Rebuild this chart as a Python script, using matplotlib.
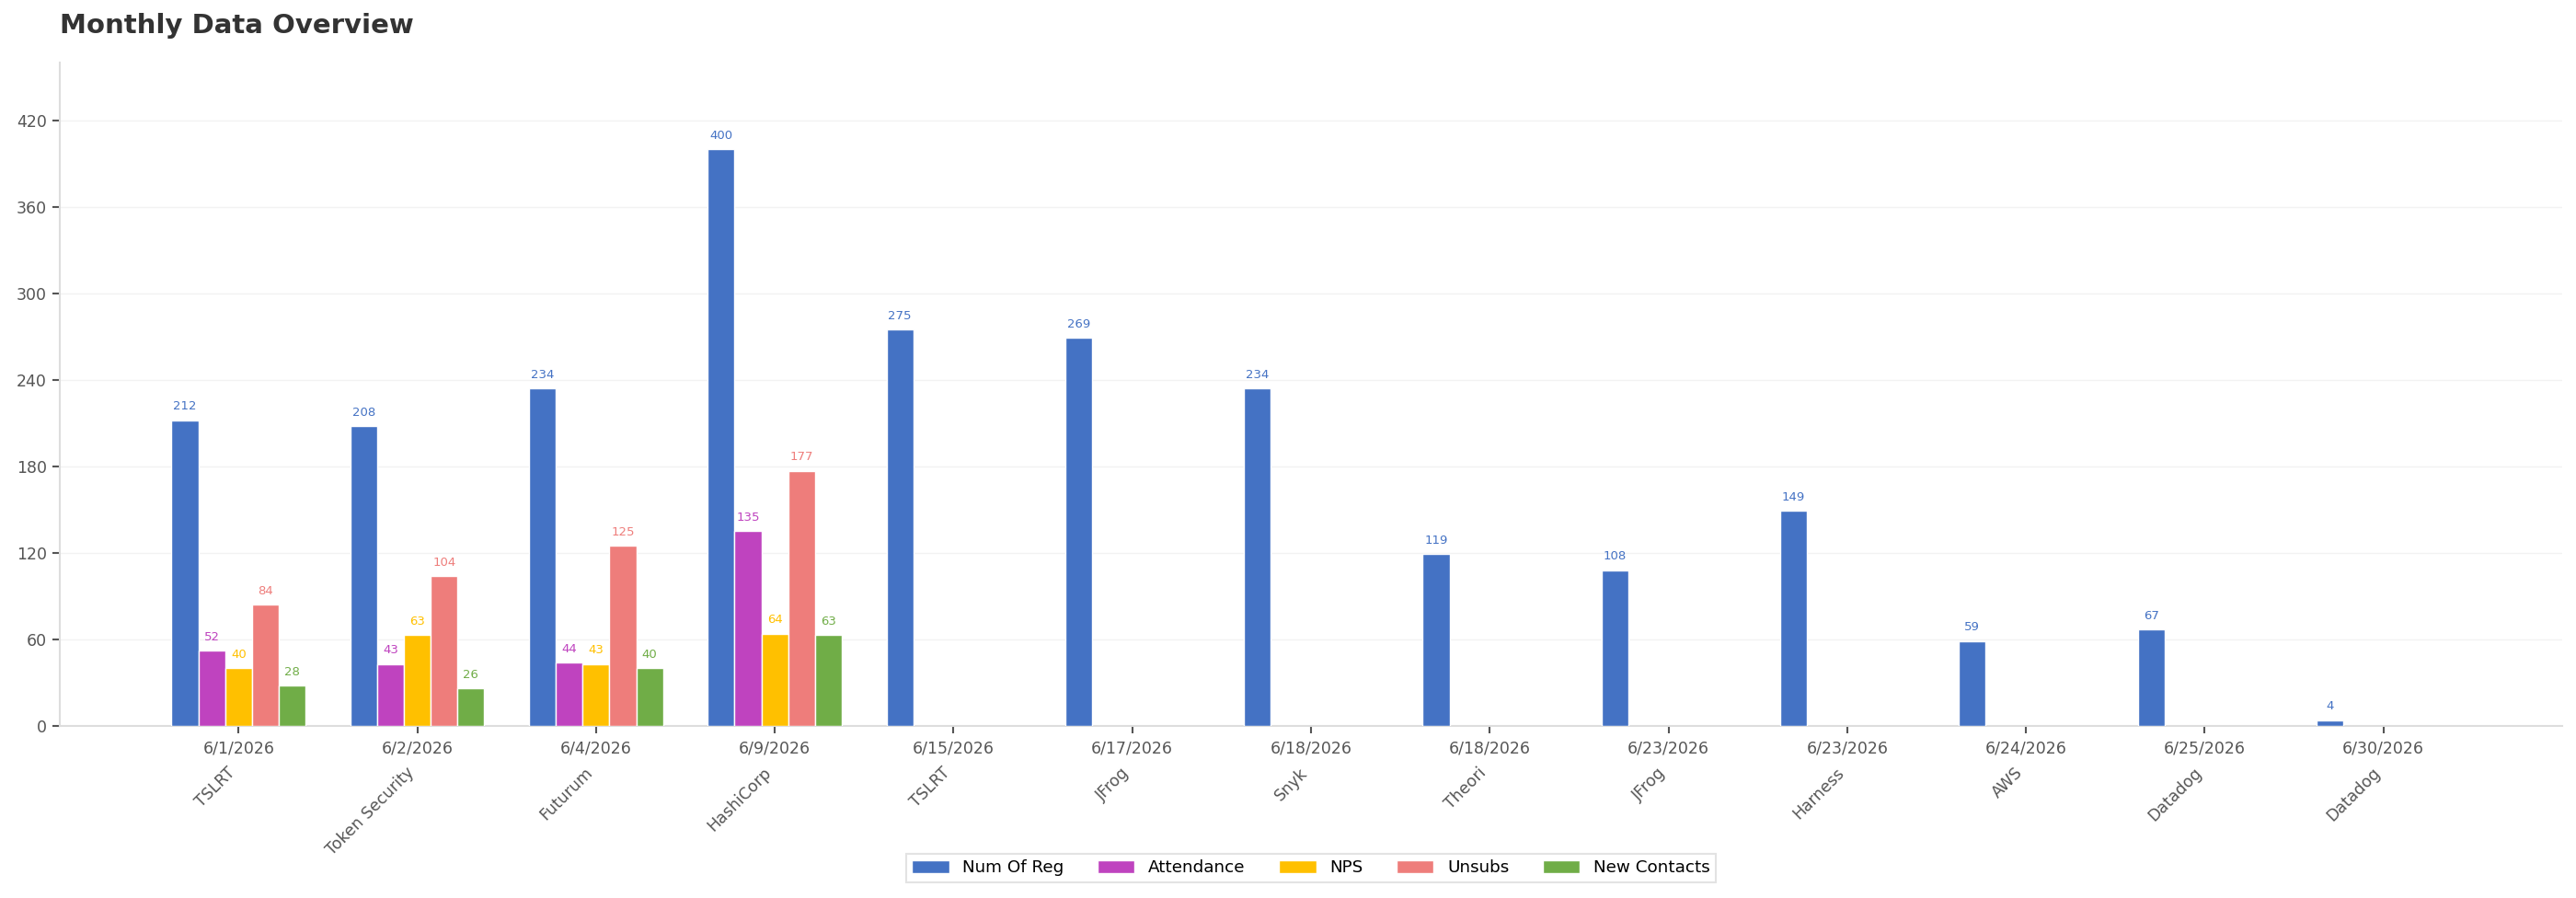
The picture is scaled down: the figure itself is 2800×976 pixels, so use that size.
import matplotlib
matplotlib.use("Agg")
import matplotlib.pyplot as plt
import matplotlib.transforms as mtransforms
import numpy as np

dates = ["6/1/2026", "6/2/2026", "6/4/2026", "6/9/2026", "6/15/2026", "6/17/2026",
         "6/18/2026", "6/18/2026", "6/23/2026", "6/23/2026", "6/24/2026", "6/25/2026", "6/30/2026"]
companies = ["TSLRT", "Token Security", "Futurum", "HashiCorp", "TSLRT", "JFrog",
             "Snyk", "Theori", "JFrog", "Harness", "AWS", "Datadog", "Datadog"]

num_of_reg = [212, 208, 234, 400, 275, 269, 234, 119, 108, 149, 59, 67, 4]
attendance = [52, 43, 44, 135, 0, 0, 0, 0, 0, 0, 0, 0, 0]
nps = [40, 63, 43, 64, 0, 0, 0, 0, 0, 0, 0, 0, 0]
unsubs = [84, 104, 125, 177, 0, 0, 0, 0, 0, 0, 0, 0, 0]
new_contacts = [28, 26, 40, 63, 0, 0, 0, 0, 0, 0, 0, 0, 0]

series_names = ["Num Of Reg", "Attendance", "NPS", "Unsubs", "New Contacts"]
series_values = [num_of_reg, attendance, nps, unsubs, new_contacts]
colors = ["#4472C4", "#BF43BF", "#FFC000", "#EE7D7B", "#70AD47"]

plt.rcParams['font.family'] = ['DejaVu Sans']

fig = plt.figure(figsize=(28, 9.76), dpi=100)
ax = fig.add_axes([65/2800, 1-789/976, (2785-65)/2800, (789-68)/976])

x = np.arange(len(dates))
width = 0.15
n = len(series_names)
for i, (name, vals, c) in enumerate(zip(series_names, series_values, colors)):
    offs = (i - (n - 1) / 2) * width
    arr = np.array(vals, dtype=float)
    shown = np.where(arr == 0, np.nan, arr)
    ax.bar(x + offs, shown, width, color=c, edgecolor="white", linewidth=1, label=name, zorder=3)
    for xi, v in zip(x + offs, vals):
        if v:
            ax.annotate(str(v), (xi, v), xytext=(0, 6), textcoords="offset points",
                        ha="center", va="bottom", fontsize=9.5, color=c)

ax.set_xlim(-1, len(dates))
ax.set_ylim(0, 460)
ax.set_yticks(np.arange(0, 421, 60))
ax.set_xticks(x)
ax.set_xticklabels(dates)
ax.tick_params(axis="both", labelsize=12.5, colors="#555555", length=6, width=1.5)
ax.tick_params(axis="x", pad=5)
ax.tick_params(axis="y", pad=4)
for lab in ax.get_xticklabels() + ax.get_yticklabels():
    lab.set_color("#555555")

for s in ["top", "right"]:
    ax.spines[s].set_visible(False)
for s in ["left", "bottom"]:
    ax.spines[s].set_color("#dddddd")
    ax.spines[s].set_linewidth(1.5)
ax.grid(axis="y", color="#f2f2f2", linewidth=1, zorder=0)
ax.set_axisbelow(True)

trans = mtransforms.blended_transform_factory(ax.transData, ax.transAxes)
for xi, name in zip(x, companies):
    ax.text(xi, -0.058, name, transform=trans, rotation=45, ha="right", va="top",
            fontsize=12.5, color="#555555")

leg = ax.legend(loc="upper center", bbox_to_anchor=(0.5, -0.18), ncol=5, fontsize=13.2,
                frameon=True, fancybox=False, edgecolor="#dddddd", handlelength=2.2,
                handleheight=0.8, columnspacing=2.0, borderpad=0.35)
leg.get_frame().set_linewidth(1.5)

fig.text(65/2800, 1-28/976, "Monthly Data Overview", fontsize=21, fontweight="bold",
         color="#333333", ha="left", va="center")

fig.savefig("out.png", dpi=100, facecolor="white")
